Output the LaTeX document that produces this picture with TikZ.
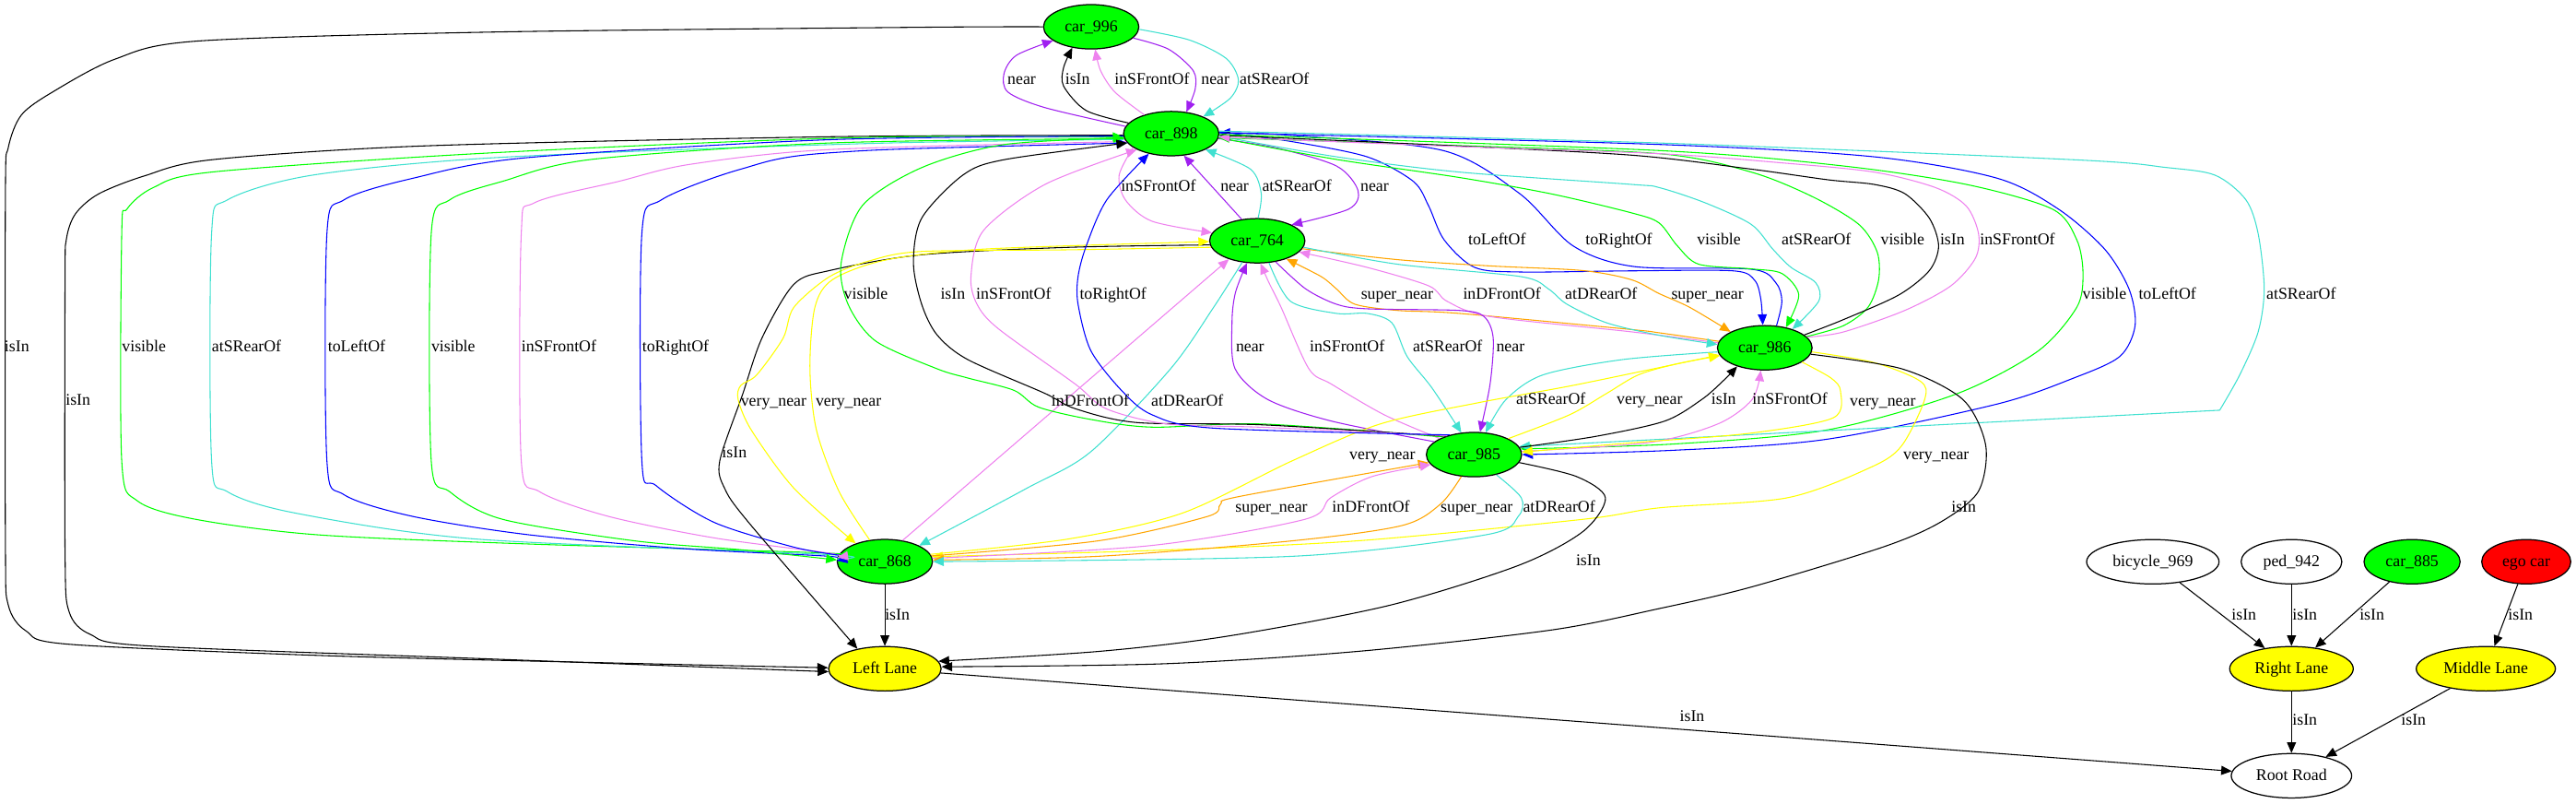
\documentclass[tikz,border=0pt]{standalone}
\usepackage{fontspec}
\setmainfont{Liberation Serif}
\usetikzlibrary{shapes.geometric,arrows.meta}
\definecolor{gpurple}{HTML}{A020F0}
\definecolor{gviolet}{HTML}{EE82EE}
\definecolor{gturq}{HTML}{40E0D0}
\definecolor{gblue}{HTML}{0000FF}
\definecolor{ggreen}{HTML}{00FF00}
\definecolor{gorange}{HTML}{FFA500}
\definecolor{gyellow}{HTML}{FFFF00}
\definecolor{gred}{HTML}{FF0000}
\begin{document}
\begin{tikzpicture}[x=1pt,y=-1pt,
  nd/.style={ellipse, draw=black, line width=0.7pt, inner sep=0pt, minimum height=27pt, font=\fontsize{10}{12}\selectfont, text height=7.5pt, text depth=1.5pt},
  lb/.style={inner sep=0pt, font=\fontsize{10}{12}\selectfont, text height=7.5pt, text depth=1.5pt},
  ed/.style={line width=0.6pt, -{Triangle[length=6.5pt,width=5.5pt]}},
  edr/.style={line width=0.6pt, {Triangle[length=6.5pt,width=5.5pt]}-}
]
\useasboundingbox (0,0) rectangle (1568,489);
% ---------- nodes ----------
\node[nd, fill=ggreen, minimum width=58pt] (c996) at (664.2,16.3) {car\_996};
\node[nd, fill=ggreen, minimum width=58pt] (c898) at (712.9,81.3) {car\_898};
\node[nd, fill=ggreen, minimum width=58pt] (c764) at (765.3,146.5) {car\_764};
\node[nd, fill=ggreen, minimum width=57.6pt] (c986) at (1074.2,211.6) {car\_986};
\node[nd, fill=ggreen, minimum width=58pt] (c985) at (897.2,276.6) {car\_985};
\node[nd, fill=ggreen, minimum width=58pt] (c868) at (538.6,341.7) {car\_868};
\node[nd, fill=gyellow, minimum width=68.5pt] (LL) at (538.6,406.9) {Left Lane};
\node[nd, fill=white, minimum width=73.3pt] (RR) at (1394.8,472) {Root Road};
\node[nd, fill=gyellow, minimum width=75.2pt] (RL) at (1394.8,406.9) {Right Lane};
\node[nd, fill=gyellow, minimum width=84.7pt] (ML) at (1513.1,406.9) {Middle Lane};
\node[nd, fill=white, minimum width=80.6pt] (bic) at (1310.4,341.8) {bicycle\_969};
\node[nd, fill=white, minimum width=61.3pt] (ped) at (1394.8,341.8) {ped\_942};
\node[nd, fill=ggreen, minimum width=58.5pt] (c885) at (1468.2,341.8) {car\_885};
\node[nd, fill=gred, minimum width=54.2pt] (ego) at (1537.7,341.8) {ego car};
% ---------- car_996 group ----------
\draw[ed,gpurple] plot[smooth] coordinates {(c898.171) (636.1,65.5) (613.6,56.1) (611.1,44.9) (618.6,33.7) (c996.200)};
\draw[ed] plot[smooth] coordinates {(c898.166) (661.2,67.3) (647.4,52.4) (647.4,41.1) (c996.228)};
\draw[ed,gviolet] plot[smooth] coordinates {(c898.145) (678.7,56.1) (669.9,43) (c996.280)};
\draw[ed,gpurple] plot[smooth] coordinates {(c996.345) (711.2,29.9) (726.3,43) (727.5,54.2) (c898.55)};
\draw[ed,gturq] plot[smooth] coordinates {(c996.357) (723.8,24.3) (746.3,35.5) (753.8,48.6) (748.8,59.8) (c898.28)};
\draw[ed] plot[smooth] coordinates {(c996.180) (560,16.6) (300,19.5) (120,25) (70,36) (32,56) (13,70) (5,90) (3.3,118) (3.3,330) (5,368) (16,384) (42,392) (200,399) (400,404) (LL.179)};
\draw[ed] plot[smooth] coordinates {(c898.182) (505,83.2) (257.7,88.8) (128.8,97.2) (88,107) (60,118) (46,130) (40.5,145) (39.6,170) (39.6,336) (42,372) (55,386) (90,393) (300,401) (LL.183)};
% ---------- left bundle car_898 <-> car_868 ----------
\draw[edr,ggreen] plot[smooth] coordinates {(c898.184) (505,84.2) (290,93.5) (128.8,104.7) (93.4,114.1) (77.3,127.2) (74.1,142) (74.1,280.5) (83.7,304.8) (119.2,316) (193.3,325.4) (322.1,331) (505,336.6) (c868.176)};
\draw[edr,gturq] plot[smooth] coordinates {(c898.187) (505,88) (300,96) (190,106.6) (138.5,121.6) (128.8,142) (128.8,280.5) (138.5,299.2) (180.4,312.3) (290,328) (505,337.5) (c868.177)};
\draw[ed,gblue] plot[smooth] coordinates {(c898.183) (505,85) (320,96) (251.2,108.5) (209.4,121.6) (199,142) (199,280.5) (209.4,301) (251.2,314.2) (322,325.4) (418.7,334) (505,338.5) (c868.179)};
\draw[ed,ggreen] plot[smooth] coordinates {(c898.186) (505,87) (360,97) (306,110.3) (273.8,121.6) (262.5,142) (262.5,280.5) (273.8,299.2) (306,316) (386.5,329.1) (451,334.5) (c868.178)};
\draw[ed,gviolet] plot[smooth] coordinates {(c898.190) (505,91) (420,100) (376.9,110.3) (325.3,123.4) (317.3,142) (317.3,280.5) (328.5,299.2) (370.4,314.2) (434.8,327.3) (505,336.6) (c868.175)};
\draw[edr,gblue] plot[smooth] coordinates {(c898.192) (505,93) (451,102.9) (402.6,121.6) (390.7,142) (390.7,280.5) (399.4,295.5) (434.8,317.9) (483.2,332.9) (c868.172)};
% ---------- car_898 <-> car_764 ----------
\draw[ed,gviolet] plot[smooth] coordinates {(c898.200) (681.2,106.6) (685,121.6) (701.2,134.6) (c764.170)};
\draw[ed,gpurple] (c764.126) -- (c898.300);
\draw[ed,gturq] plot[smooth] coordinates {(c764.88) (767.7,117.8) (761.1,102.9) (c898.335)};
\draw[ed,gpurple] plot[smooth] coordinates {(c898.354) (776.1,89.8) (813.5,101) (826.6,115.9) (821,127.2) (c764.25)};
% ---------- car_898 <-> car_986 ----------
\draw[ed,gblue] plot[smooth] coordinates {(c898.2) (785.4,86) (832.1,95.4) (860.2,110.3) (869.6,125.3) (879,145.9) (897.6,162.7) (925.7,165.5) (993,164.8) (1055,164.8) (1068,170.5) (1071.8,182) (c986.95)};
\draw[ed,gblue] plot[smooth] coordinates {(c986.62) (1084.6,183.3) (1080.9,172) (1065.9,163.8) (994.7,162.2) (957.5,149.6) (925,117.8) (878.4,91.6) (785.4,82.3) (c898.1)};
\draw[ed,ggreen] plot[smooth] coordinates {(c898.355) (813.5,97) (888.3,108) (944.4,118) (993,129.5) (1009.8,135.6) (1021,149.6) (1034.1,160.8) (1065.9,163.6) (1084.6,166.4) (1094.9,179.5) (c986.44)};
\draw[ed,gturq] plot[smooth] coordinates {(c898.357) (813.5,95.4) (888.3,104.7) (993,112.2) (1009.8,114.1) (1037.9,123.4) (1065.9,136.5) (1079,151.5) (1090.2,162.7) (1105.2,172) (1107,183.3) (c986.34)};
\draw[ed,ggreen] plot[smooth] coordinates {(c986.15) (1122,198.2) (1137,187) (1143.5,170.2) (1142.6,153.3) (1131.4,136.5) (1103.3,119.7) (1065.9,104.7) (1009.8,93.5) (870,88) (c898.355)};
\draw[ed] plot[smooth] coordinates {(c986.18) (1122,194.5) (1155.7,179.5) (1174.4,164.6) (1180,149.6) (1174.4,132.8) (1159.4,117.8) (1140.7,112.2) (1112.7,109.4) (1065.9,102.9) (993,94.4) (870,88) (c898.358)};
\draw[ed,gviolet] plot[smooth] coordinates {(c986.14) (1122,202) (1159.4,188.9) (1187.5,173.9) (1202.4,157.1) (1204.3,142.1) (1196.8,125.3) (1178,114.1) (1140.7,104.7) (1084.6,99.1) (1009.8,93.5) (870,88.5) (c898.356)};
% ---------- car_898 -> car_985 (right) ----------
\draw[ed,ggreen] plot[smooth] coordinates {(c898.359) (1009.8,91.6) (1122,101) (1196.8,112.2) (1249.2,127.2) (1264.1,145.9) (1267.9,166.4) (1264.1,187) (1240,214) (1190,240) (1111,261.8) (1018,270.2) (c985.7)};
\draw[ed,gblue] plot[smooth] coordinates {(c898.1) (1009.8,87.9) (1140.7,95.4) (1215.5,108.4) (1252.9,127.2) (1281,151.5) (1295.9,175.8) (1299.6,198.2) (1290.3,216.9) (1262.3,230) (1215,246) (1111,267.4) (1018,274) (c985.0)};
\draw[ed,gturq] plot[smooth] coordinates {(c898.3) (1009.8,87) (1262.3,97.2) (1318.4,101.9) (1348.3,106.6) (1367,121.5) (1374.5,142.1) (1378.2,175.8) (1374.5,202) (1363.3,228.1) (1351.1,249.6)} -- (c985.10);
% ---------- car_764 <-> car_986 ----------
\draw[ed,gorange] plot[smooth] coordinates {(c986.172) (1010,202.5) (993,200.5) (888.3,190.7) (850.9,188.9) (824.7,185.1) (813.5,175.8) (804.2,168.3) (c764.328)};
\draw[ed,gorange] plot[smooth] coordinates {(c764.350) (850.9,158) (907,161.8) (963.1,164.6) (993,170.2) (1009.8,178.6) (1028.5,187) (c986.155)};
\draw[ed,gviolet] plot[smooth] coordinates {(c986.174) (993,201.9) (907,192.6) (880.8,183.3) (869.6,173.9) (832.2,162.7) (c764.345)};
\draw[ed,gturq] plot[smooth] coordinates {(c764.352) (850.9,160.8) (925.7,168.3) (942.5,175.8) (953.8,185.1) (977.9,196.4) (1010,204) (c986.176)};
% ---------- car_764 <-> car_985 ----------
\draw[ed,gpurple] plot[smooth] coordinates {(c985.162) (810.4,256.2) (771.7,243.1) (751.8,224.4) (749.9,196.4) (752,178) (c764.245)};
\draw[ed,gviolet] plot[smooth] coordinates {(c985.155) (842.6,252.4) (810.4,233.7) (796.7,224.4) (779.8,187) (772.4,172) (c764.278)};
\draw[ed,gturq] plot[smooth] coordinates {(c764.298) (785.5,183.3) (813.5,190.7) (832.2,190.7) (847.2,196.4) (856.5,216.9) (871.6,236) (c985.120)};
\draw[ed,gpurple] plot[smooth] coordinates {(c764.311) (794.8,175.8) (813.5,185.1) (832.2,187.9) (888.3,188.9) (903.3,192.6) (908.9,205.7) (907,233.7) (c985.75)};
% ---------- car_986 <-> car_985 ----------
\draw[ed,gturq] plot[smooth] coordinates {(c986.185) (987.5,218.8) (939.2,228.1) (916.7,243.1) (c985.62)};
\draw[ed,gyellow] plot[smooth] coordinates {(c985.25) (955.3,252.4) (977.9,239.4) (997.2,228.1) (1019.7,221.6) (c986.190)};
\draw[ed] plot[smooth] coordinates {(c985.9) (971.4,265.5) (1013.3,256.2) (1035.8,243.1) (1048.7,231.9) (c986.214)};
\draw[ed,gviolet] plot[smooth] coordinates {(c985.4) (1003.6,269.3) (1045.5,258) (1066.5,243.1) (c986.260)};
\draw[ed,gyellow] plot[smooth] coordinates {(c986.339) (1114.5,230) (1120.3,238) (1115.7,254.3) (1064.5,263.7) (994.7,269.3) (c985.3)};
% ---------- car_986 <-> car_868 ----------
\draw[ed,gyellow] plot[smooth] coordinates {(c986.355) (1140.7,220.6) (1168.8,231.9) (1171.5,243.1) (1157.6,271.1) (1139,284.2) (1087.8,302.9) (1009.9,309) (963.4,316) (825.7,329.1) (700,335) (c868.6)};
\draw[ed,gyellow] plot[smooth] coordinates {(c868.9) (650,328) (719.4,312.3) (786.3,280.5) (840,258) (900,245) (960,234) (c986.189)};
% ---------- car_868 <-> car_985 ----------
\draw[ed,gorange] plot[smooth] coordinates {(c868.7) (668.2,329.1) (735.1,314.2) (743,306.7) (754.8,302) (c985.190)};
\draw[ed,gviolet] plot[smooth] coordinates {(c868.4) (700,332) (794.2,316) (809.9,302.9) (835,290) (c985.193)};
\draw[ed,gorange] plot[smooth] coordinates {(c985.240) (876.8,306.7) (853.2,319.8) (786.3,329.1) (668.2,338.5) (c868.2)};
\draw[ed,gturq] plot[smooth] coordinates {(c985.318) (926,302.9) (924.1,314.2) (904.4,325.4) (786.3,338.5) (c868.0)};
% ---------- to Left Lane ----------
\draw[ed] plot[smooth] coordinates {(c985.350) (959.5,289.9) (977.2,302.9) (963.4,323.5) (924.1,344.1) (845.4,368.4) (747,387.1) (668.2,396.4) (LL.8)};
\draw[ed] plot[smooth] coordinates {(c986.352) (1157.6,224.4) (1194.8,243.1) (1208.7,271.1) (1204.1,299.2) (1180.8,317.9) (1146,332.9) (1065.9,357.2) (1009.9,370.3) (943.8,383.4) (825.7,396.4) (707.6,403.9) (LL.2)};
\draw[ed] plot[smooth] coordinates {(c764.185) (650,150.5) (561,155) (505,164.6) (483.2,173) (463.8,205.7) (452,240) (438.1,280.5) (441,297) (455.7,317.9) (LL.144)};
% ---------- car_764 <-> car_868 ----------
\draw[ed,gyellow] plot[smooth] coordinates {(c764.188) (650,152) (561,153) (530,158.5) (505,168.3) (483.2,187) (476.7,205.7) (460.6,228.1) (450.9,234.5) (449.3,243.1) (457.4,261.8) (483.2,297) (c868.148)};
\draw[ed,gyellow] plot[smooth] coordinates {(c868.125) (510.8,299.2) (497,261.8) (493,224.4) (496,187) (507,170) (540,158) (600,151.5) (c764.181)};
\draw[ed,gviolet] (c868.50) -- (c764.213);
\draw[ed,gturq] plot[smooth] coordinates {(c764.235) (738.7,187) (712.5,224.4) (663.9,274.9) (624.6,297.3) (c868.25)};
% ---------- car_985 -> car_898 (left) ----------
\draw[ed,ggreen] plot[smooth] coordinates {(c985.150) (768.6,258) (701.3,259.9) (663.9,255.2) (632.1,247.7) (617.2,237.5) (589.1,230) (570.4,224.4) (533,207.5) (516.2,185.1) (512,160) (525,125) (561,102) (611,88) (c898.185)};
\draw[ed] plot[smooth] coordinates {(c985.147) (768.6,258.5) (692,257.1) (654.6,248.7) (635.9,239.3) (589.1,218.8) (570.4,203.8) (561,185.1) (556,160) (561,132.8) (586,106.6) (611,97.2) (c898.192)};
\draw[ed,gviolet] plot[smooth] coordinates {(c985.145) (768.6,260) (710.7,258) (673.3,248.7) (654.5,233.7) (607.8,200.1) (594.7,185.1) (591,168.3) (598.6,140.3) (636.1,112.2) (c898.205)};
\draw[ed,gblue] plot[smooth] coordinates {(c985.141) (738.7,260.5) (701.3,252.4) (682.6,237.5) (663.9,213.2) (656.2,185.1) (656.2,168.3) (661.2,149.6) (673.7,121.6) (c898.222)};
% ---------- straight edges ----------
\draw[ed] (c868) -- (LL);
\draw[ed] (bic) -- (RL);
\draw[ed] (ped) -- (RL);
\draw[ed] (c885) -- (RL);
\draw[ed] (ego) -- (ML);
\draw[ed] (RL) -- (RR);
\draw[ed] (ML) -- (RR);
\draw[ed] (LL) -- (RR);
% ---------- labels ----------
\node[lb] (t1) at (621.9,48.6) {near};
\node[lb] (t2) at (655.9,48.6) {isIn};
\node[lb] (t3) at (701.2,48.6) {inSFrontOf};
\node[lb] (t4) at (739.8,48.6) {near};
\node[lb] (t5) at (775.7,48.6) {atSRearOf};
\node[lb] (t6) at (705.1,113.5) {inSFrontOf};
\node[lb] (t7) at (751.5,113.5) {near};
\node[lb] (t8) at (789.4,113.5) {atSRearOf};
\node[lb] (t9) at (836.7,113.5) {near};
\node[lb] (r1) at (911.2,146) {toLeftOf};
\node[lb] (r2) at (985.4,146) {toRightOf};
\node[lb] (r3) at (1046.3,146) {visible};
\node[lb] (r4) at (1105.6,146) {atSRearOf};
\node[lb] (r5) at (1158.1,146) {visible};
\node[lb] (r6) at (1188.4,146) {isIn};
\node[lb] (r7) at (1228,146) {inSFrontOf};
\node[lb] (s1) at (527,178.8) {visible};
\node[lb] (s2) at (580,178.8) {isIn};
\node[lb] (s3) at (617,178.8) {inSFrontOf};
\node[lb] (s4) at (677.5,178.8) {toRightOf};
\node[lb] (s5) at (850.4,178.8) {super\_near};
\node[lb] (s6) at (914.2,178.8) {inDFrontOf};
\node[lb] (s7) at (974.6,178.8) {atDRearOf};
\node[lb] (s8) at (1039.3,178.8) {super\_near};
\node[lb] (s9) at (1281,178.8) {visible};
\node[lb] (s10) at (1319.3,178.8) {toLeftOf};
\node[lb] (s11) at (1400.7,178.8) {atSRearOf};
\node[lb] (u1) at (10.3,211) {isIn};
\node[lb] (u2) at (87.6,211) {visible};
\node[lb] (u3) at (150.1,211) {atSRearOf};
\node[lb] (u4) at (217.1,211) {toLeftOf};
\node[lb] (u5) at (275.9,211) {visible};
\node[lb] (u6) at (340.2,211) {inSFrontOf};
\node[lb] (u7) at (411.2,211) {toRightOf};
\node[lb] (u8) at (760.9,211.3) {near};
\node[lb] (u9) at (820,211.3) {inSFrontOf};
\node[lb] (u10) at (881.2,211.3) {atSRearOf};
\node[lb] (u11) at (919.4,211.3) {near};
\node[lb] (v1) at (47.5,243.7) {isIn};
\node[lb] (v2) at (470.9,244) {very\_near};
\node[lb] (v3) at (516.5,244) {very\_near};
\node[lb] (v4) at (663.7,244) {inDFrontOf};
\node[lb] (v5) at (722.7,244) {atDRearOf};
\node[lb] (v6) at (944,243.1) {atSRearOf};
\node[lb] (v7) at (1004.1,243.1) {very\_near};
\node[lb] (v8) at (1049.2,243.1) {isIn};
\node[lb] (v9) at (1089.5,243.1) {inSFrontOf};
\node[lb] (v10) at (1146,244) {very\_near};
\node[lb] (w1) at (447,275.8) {isIn};
\node[lb] (w2) at (841.4,276.8) {very\_near};
\node[lb] (w3) at (1178.5,276.7) {very\_near};
\node[lb] (x1) at (773.9,308.9) {super\_near};
\node[lb] (x2) at (834.5,308.9) {inDFrontOf};
\node[lb] (x3) at (898.9,308.9) {super\_near};
\node[lb] (x4) at (949,308.9) {atDRearOf};
\node[lb] (x5) at (1195.3,308.6) {isIn};
\node[lb] (y1) at (966.8,341.3) {isIn};
\node[lb] (z1) at (546.2,374) {isIn};
\node[lb] (z2) at (1365.9,374) {isIn};
\node[lb] (z3) at (1402.9,374) {isIn};
\node[lb] (z4) at (1443.8,374) {isIn};
\node[lb] (z5) at (1534.2,374) {isIn};
\node[lb] (z6) at (1402.9,438.5) {isIn};
\node[lb] (z7) at (1469.1,438.5) {isIn};
\node[lb] (z8) at (1030,436) {isIn};
\end{tikzpicture}
\end{document}
